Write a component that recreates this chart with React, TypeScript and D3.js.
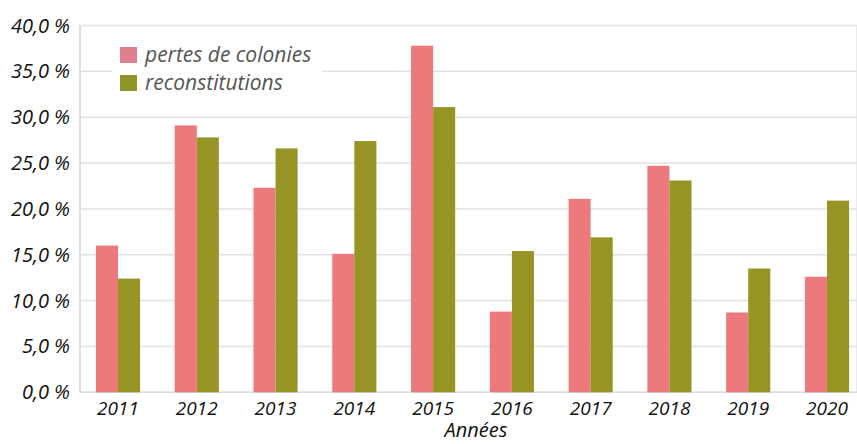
import React, { useEffect, useRef } from "react";
import * as d3 from "d3";

const years = ["2011", "2012", "2013", "2014", "2015", "2016", "2017", "2018", "2019", "2020"];
const pertes = [16.0, 29.1, 22.3, 15.1, 37.8, 8.8, 21.1, 24.7, 8.7, 12.6];
const reconstitutions = [12.4, 27.8, 26.6, 27.4, 31.1, 15.4, 16.9, 23.1, 13.5, 20.9];
const yTicks = [0, 5, 10, 15, 20, 25, 30, 35, 40];
const seriesNames = ["pertes de colonies", "reconstitutions"];
const seriesColors = ["#EC797C", "#969424"];
const legendColors = ["#E0808F", "#8F9428"];
const xTitle = "Années";

const W = 857;
const H = 444;

export default function App() {
  const ref = useRef<SVGSVGElement>(null);

  useEffect(() => {
    const svg = d3.select(ref.current);
    svg.selectAll("*").remove();
    const font = "'Open Sans', 'Noto Sans', sans-serif";

    const plotLeft = 80;
    const plotRight = 857;
    const y = d3.scaleLinear().domain([0, 40]).range([392.3, 25.5]);
    const x0 = d3.scaleBand<string>().domain(years).range([78.6, 866.4]).paddingInner(0.44).paddingOuter(0.22);
    const x1 = d3.scaleBand<string>().domain(seriesNames).range([0, x0.bandwidth()]);

    svg.append("rect").attr("x", plotLeft).attr("y", y(40)).attr("width", plotRight - plotLeft)
      .attr("height", y(0) - y(40)).attr("fill", "#fff").attr("stroke", "#e4e4e4").attr("stroke-width", 1.5);

    svg.append("g").selectAll("line").data(yTicks.filter(t => t > 0 && t < 40)).join("line")
      .attr("x1", plotLeft).attr("x2", plotRight)
      .attr("y1", d => y(d)).attr("y2", d => y(d))
      .attr("stroke", "#e2e2e6").attr("stroke-width", 1.5);

    svg.append("line").attr("x1", plotLeft).attr("x2", plotRight).attr("y1", y(0)).attr("y2", y(0))
      .attr("stroke", "#dcdce0").attr("stroke-width", 1.5);
    svg.append("line").attr("x1", plotLeft).attr("x2", plotLeft).attr("y1", y(40)).attr("y2", y(0))
      .attr("stroke", "#d8d8dc").attr("stroke-width", 1.5);

    svg.append("g").selectAll("text").data(yTicks).join("text")
      .attr("x", 70).attr("y", d => y(d)).attr("dy", "0.35em")
      .attr("text-anchor", "end").attr("font-family", font).attr("font-style", "italic")
      .attr("font-size", 20).attr("fill", "#111")
      .text(d => d3.format(".1f")(d).replace(".", ",") + " %");

    svg.append("rect").attr("x", 112).attr("y", 36).attr("width", 210).attr("height", 64).attr("fill", "#fff");

    const groups = svg.append("g").selectAll("g").data(years).join("g")
      .attr("transform", d => `translate(${x0(d)},0)`);
    groups.selectAll("rect").data((d, i) => [
      { key: seriesNames[0], v: pertes[i], c: seriesColors[0] },
      { key: seriesNames[1], v: reconstitutions[i], c: seriesColors[1] },
    ]).join("rect")
      .attr("x", d => x1(d.key)!).attr("width", x1.bandwidth())
      .attr("y", d => y(d.v)).attr("height", d => y(0) - y(d.v))
      .attr("fill", d => d.c);

    svg.append("g").selectAll("text").data(years).join("text")
      .attr("x", d => x0(d)! + x0.bandwidth() / 2).attr("y", 415)
      .attr("text-anchor", "middle").attr("font-family", font).attr("font-style", "italic")
      .attr("font-size", 19).attr("fill", "#111").text(d => d);

    svg.append("text").attr("x", 476).attr("y", 437).attr("text-anchor", "middle")
      .attr("font-family", font).attr("font-style", "italic").attr("font-size", 20)
      .attr("fill", "#111").text(xTitle);

    const leg = svg.append("g").selectAll("g").data(seriesNames).join("g")
      .attr("transform", (d, i) => `translate(120,${47 + i * 28})`);
    leg.append("rect").attr("width", 17).attr("height", 16).attr("fill", (d, i) => legendColors[i]);
    leg.append("text").attr("x", 25).attr("y", 8).attr("dy", "0.35em")
      .attr("font-family", font).attr("font-style", "italic").attr("font-size", 21)
      .attr("fill", "#555").text(d => d);
  }, []);

  return (
    <svg ref={ref} width={W} height={H}
      style={{ position: "absolute", left: 0, top: 0, display: "block", background: "#fff" }} />
  );
}
